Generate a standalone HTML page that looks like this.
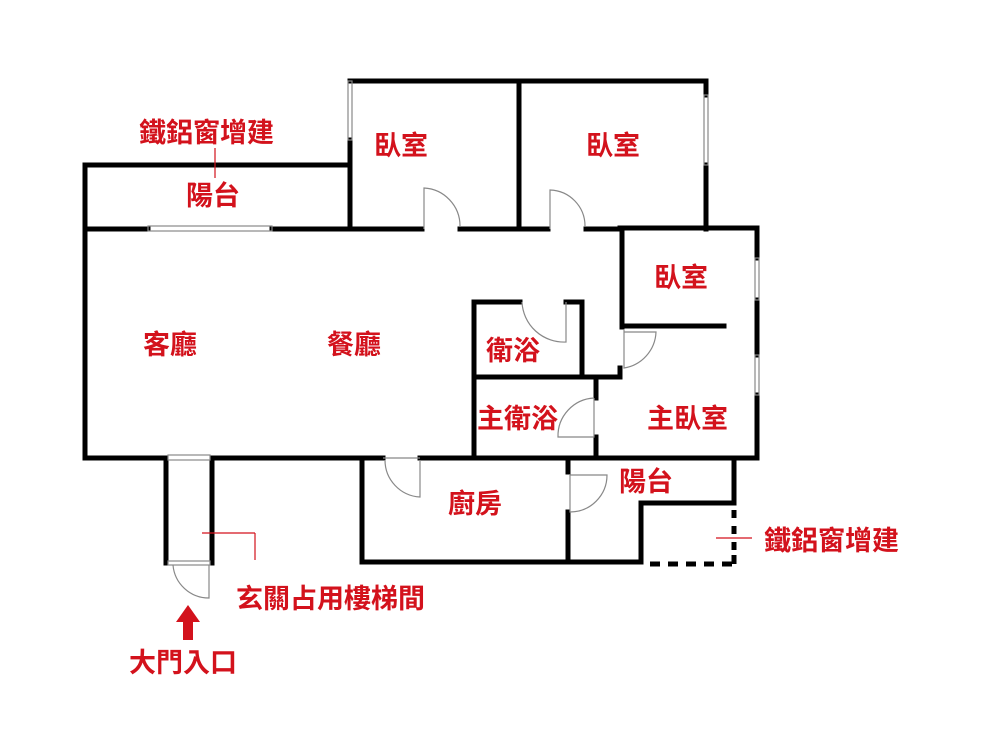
<!DOCTYPE html>
<html><head><meta charset="utf-8"><style>
html,body{margin:0;padding:0;background:#fff;}
svg{display:block;}
text{font-family:"Liberation Sans","Noto Sans CJK TC",sans-serif;fill:#d3121c;font-size:27px;font-weight:bold;}
</style></head><body>
<svg width="1000" height="750" viewBox="0 0 1000 750" xmlns="http://www.w3.org/2000/svg">
<g stroke="#000" stroke-width="5" fill="none" stroke-linecap="square">
<line x1="85" y1="165" x2="350" y2="165"/>
<line x1="85" y1="165" x2="85" y2="458"/>
<line x1="85" y1="229" x2="148" y2="229"/>
<line x1="272" y1="229" x2="422" y2="229"/>
<line x1="460" y1="229" x2="548" y2="229"/>
<line x1="586" y1="229" x2="620" y2="229"/>
<line x1="350" y1="81" x2="706" y2="81"/>
<line x1="350" y1="140" x2="350" y2="229"/>
<line x1="519" y1="81" x2="519" y2="229"/>
<line x1="706" y1="81" x2="706" y2="95"/>
<line x1="706" y1="165" x2="706" y2="229"/>
<line x1="620" y1="228" x2="757" y2="228"/>
<line x1="757" y1="228" x2="757" y2="258"/>
<line x1="757" y1="300" x2="757" y2="355"/>
<line x1="757" y1="395" x2="757" y2="458"/>
<line x1="622" y1="228" x2="622" y2="327"/>
<line x1="622" y1="326" x2="724" y2="326"/>
<line x1="620" y1="368" x2="620" y2="377"/>
<line x1="474" y1="302" x2="520" y2="302"/>
<line x1="566" y1="302" x2="582" y2="302"/>
<line x1="474" y1="302" x2="474" y2="458"/>
<line x1="582" y1="302" x2="582" y2="377"/>
<line x1="474" y1="377" x2="620" y2="377"/>
<line x1="596" y1="377" x2="596" y2="398"/>
<line x1="596" y1="437" x2="596" y2="458"/>
<line x1="85" y1="458" x2="166" y2="458"/>
<line x1="212" y1="458" x2="383" y2="458"/>
<line x1="420" y1="458" x2="757" y2="458"/>
<line x1="166" y1="458" x2="166" y2="563"/>
<line x1="212" y1="458" x2="212" y2="563"/>
<line x1="362" y1="458" x2="362" y2="562"/>
<line x1="362" y1="562" x2="641" y2="562"/>
<line x1="568" y1="458" x2="568" y2="472"/>
<line x1="568" y1="512" x2="568" y2="562"/>
<line x1="734" y1="458" x2="734" y2="503"/>
<line x1="641" y1="503" x2="734" y2="503"/>
<line x1="641" y1="503" x2="641" y2="562"/>
</g>
<g stroke="#000" stroke-width="5">
<line x1="734" y1="510" x2="734" y2="518"/><line x1="734" y1="526" x2="734" y2="534"/><line x1="734" y1="542" x2="734" y2="550"/><line x1="734" y1="555" x2="734" y2="564"/>
<line x1="650" y1="564" x2="660" y2="564"/><line x1="668" y1="564" x2="678" y2="564"/><line x1="686" y1="564" x2="696" y2="564"/><line x1="704" y1="564" x2="714" y2="564"/><line x1="722" y1="564" x2="732" y2="564"/>
</g>
<g stroke="#888" stroke-width="1.2" fill="none">
<rect x="148" y="226" width="124" height="5"/>
<rect x="348" y="81" width="4" height="59"/>
<rect x="704" y="95" width="4" height="70"/>
<rect x="755" y="258" width="4" height="42"/>
<rect x="755" y="355" width="4" height="40"/>
<rect x="168" y="455" width="42" height="5"/>
<rect x="168" y="561" width="42" height="4"/>
<path d="M424 229 V188 A38 38 0 0 1 460 226"/>
<path d="M550 229 V190 A36 36 0 0 1 585 226"/>
<path d="M566 302 V342 A42 42 0 0 1 522 302"/>
<path d="M624 330 V368 A38 38 0 0 0 656 332 H624"/>
<path d="M594 398 V437 H558 A38 38 0 0 1 594 398"/>
<path d="M420 460 V497 A37 37 0 0 1 385 460"/>
<path d="M570 475 V512 A37 37 0 0 0 607 475 H570"/>
<path d="M209 565 V598 A36 36 0 0 1 173 565"/>
<line x1="383" y1="458" x2="420" y2="458"/>
</g>
<g stroke="#d3121c" stroke-width="1.2">
<line x1="215" y1="148" x2="215" y2="178"/>
<line x1="202" y1="533" x2="255" y2="533"/>
<line x1="255" y1="533" x2="255" y2="560"/>
<line x1="716" y1="538" x2="752" y2="538"/>
</g>
<polygon points="188,605 176,622 183,622 183,640 193,640 193,622 200,622" fill="#d3121c"/>
<text x="139" y="142" font-size="29">鐵鋁窗增建</text>
<text x="186" y="205" font-size="29">陽台</text>
<text x="374" y="155" font-size="28">臥室</text>
<text x="586" y="155" font-size="28">臥室</text>
<text x="654" y="287" font-size="28">臥室</text>
<text x="143" y="354" font-size="28">客廳</text>
<text x="327" y="354" font-size="28">餐廳</text>
<text x="486" y="360" font-size="28">衛浴</text>
<text x="477" y="428" font-size="28">主衛浴</text>
<text x="647" y="428" font-size="28">主臥室</text>
<text x="448" y="513" font-size="28">廚房</text>
<text x="619" y="491" font-size="28">陽台</text>
<text x="764" y="550" font-size="29">鐵鋁窗增建</text>
<text x="236" y="608" font-size="31">玄關占用樓梯間</text>
<text x="129" y="672" font-size="31">大門入口</text>
</svg>
</body></html>
